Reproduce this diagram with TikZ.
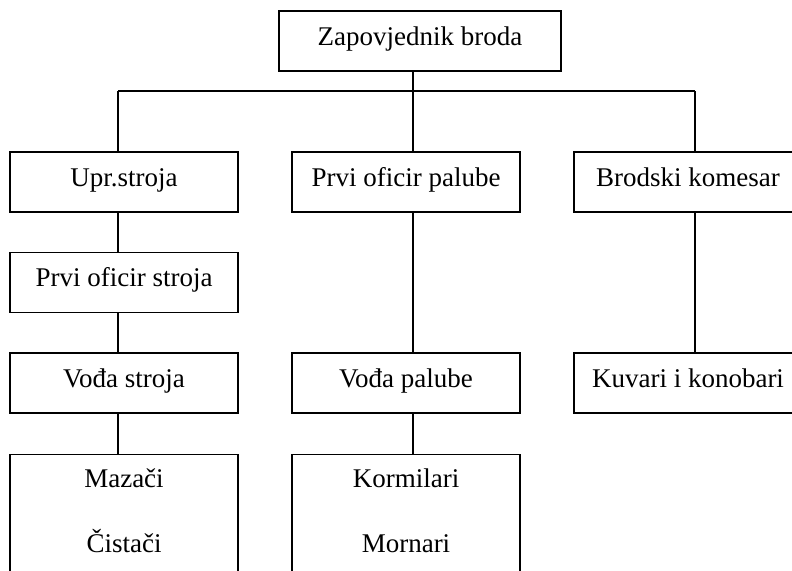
\documentclass[tikz,border=0pt]{standalone}
\usepackage{fontspec}
\setmainfont{Liberation Serif}
\tikzset{
  box/.style={draw, line width=1.3pt, minimum width=228pt, minimum height=60pt,
    inner sep=0pt, text height=18pt, text depth=10pt, font=\fontsize{27}{32}\selectfont},
  txt/.style={inner sep=0pt, anchor=base, font=\fontsize{27}{32}\selectfont},
  conn/.style={line width=1.3pt}
}
\begin{document}
\begin{tikzpicture}[x=1pt,y=-1pt]
\useasboundingbox (0,0) rectangle (792,570);
% stems of the three branches
\coordinate (ls) at (118,91);
\coordinate (ms) at (413,91);
\coordinate (rs) at (695,91);
\node[box, minimum width=282pt] (zap) at (420,41) {Zapovjednik broda};
\node[box] (upr) at (124,182) {Upr.stroja};
\node[box] (pop) at (406,182) {Prvi oficir palube};
\node[box] (kom) at (688,182) {Brodski komesar};
\node[box] (pos) at (124,282.5) {Prvi oficir stroja};
\node[box] (vst) at (124,383) {Vođa stroja};
\node[box] (vpa) at (406,383) {Vođa palube};
\node[box] (kuv) at (688,383) {Kuvari i konobari};
\node[box, minimum height=150pt, anchor=north] (maz) at (124,454) {};
\node[box, minimum height=150pt, anchor=north] (kor) at (406,454) {};
\node[txt] (mazt) at (124,487) {Mazači};
\node[txt] (cist) at (124,552) {Čistači};
\node[txt] (kort) at (406,487) {Kormilari};
\node[txt] (mort) at (406,552) {Mornari};
% connectors
\draw[conn] (zap.south -| ms) -- (ms);
\draw[conn] (ls) -- (rs);
\draw[conn] (ls) -- (upr.north -| ls);
\draw[conn] (ms) -- (pop.north -| ms);
\draw[conn] (rs) -- (kom.north -| rs);
\draw[conn] (upr.south -| ls) -- (pos.north -| ls);
\draw[conn] (pos.south -| ls) -- (vst.north -| ls);
\draw[conn] (vst.south -| ls) -- (maz.north -| ls);
\draw[conn] (pop.south -| ms) -- (vpa.north -| ms);
\draw[conn] (vpa.south -| ms) -- (kor.north -| ms);
\draw[conn] (kom.south -| rs) -- (kuv.north -| rs);
\end{tikzpicture}
\end{document}
